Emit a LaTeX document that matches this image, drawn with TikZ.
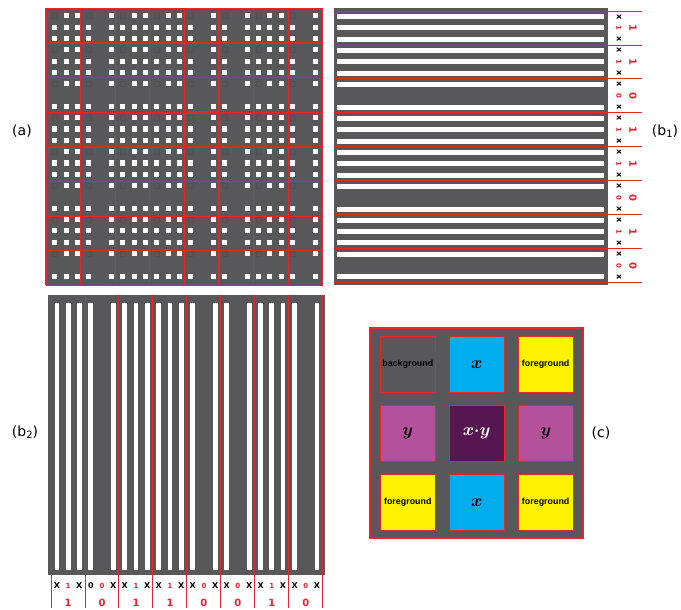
\documentclass[tikz,border=0pt]{standalone}
\usepackage{amsmath}
\usepackage{fontspec}
\setmainfont{DejaVu Sans}
\newfontfamily\lsans{Liberation Sans}
\definecolor{gr}{HTML}{58585A}
\definecolor{rd}{HTML}{E3262C}
\definecolor{cy}{HTML}{00AEEF}
\definecolor{ye}{HTML}{FFF200}
\definecolor{mg}{HTML}{B5519B}
\definecolor{dp}{HTML}{561651}
\newcommand\wsq[2]{\fill[white] ({#1*11.32+3.3},{#2*11.32+3.3}) rectangle ++(5.1,5.1);}
\tikzset{
  redl/.style={draw=rd, line width=1.2pt},
  redt/.style={draw=rd, line width=0.9pt},
  plbl/.style={font=\fontsize{14}{14}\selectfont, inner sep=0},
  b1x/.style={font=\fontsize{8}{8}\selectfont\bfseries, inner sep=0, rotate=-90},
  b1s/.style={font=\fontsize{7}{7}\selectfont\bfseries, text=rd, inner sep=0, rotate=-90},
  b1b/.style={font=\fontsize{10}{10}\selectfont\bfseries, text=rd, inner sep=0, rotate=-90},
  b2x/.style={font=\fontsize{8}{8}\selectfont\bfseries, inner sep=0},
  b2s/.style={font=\fontsize{7}{7}\selectfont\bfseries, text=rd, inner sep=0},
  b2b/.style={font=\fontsize{10}{10}\selectfont\bfseries, text=rd, inner sep=0},
  csq/.style={draw=rd, line width=0.6pt, minimum size=55.5pt, inner sep=0},
  cword/.style={font=\lsans\fontsize{8.9}{9}\selectfont\bfseries},
  cmath/.style={font=\fontsize{19}{19}\selectfont}
}
\begin{document}
\begin{tikzpicture}[x=1pt,y=-1pt]
\useasboundingbox (0,0) rectangle (681,610);
% ---------- panel (a)
\fill[gr] (46,8.5) rectangle (322.8,285.3);
\foreach \c/\X in {0/1,1/0,2/1,3/1,4/0,5/0,6/1,7/0}{
  \foreach \r/\Y in {0/1,1/1,2/0,3/1,4/1,5/0,6/1,7/0}{
    \begin{scope}[shift={(49+33.96*\c,10+33.96*\r)}]
      \draw[black!8!gr, line width=0.4pt] (3.6,3.6) rectangle ++(4.5,4.5);
      \wsq{2}{0}\wsq{0}{2}\wsq{2}{2}
      \ifnum\X=1 \wsq{1}{0}\wsq{1}{2}\fi
      \ifnum\Y=1 \wsq{0}{1}\wsq{2}{1}\fi
      \ifnum\X\Y=11 \wsq{1}{1}\fi
    \end{scope}
  }
}
\foreach \k in {0,...,8}{
  \draw[redl] (46+34.6*\k,8.5) -- (46+34.6*\k,285.3);
  \draw[redl] (46,8.5+34.6*\k) -- (322.8,8.5+34.6*\k);
}
\draw[draw=rd, line width=2.6pt] (46+34.6*4,8.5+34.6*3) rectangle ++(34.6,34.6);
\node[plbl] (la) at (22,131) {(a)};
% ---------- panel (b1)
\fill[gr] (334,8.3) rectangle (608,285);
\foreach \r/\Y in {0/1,1/1,2/0,3/1,4/1,5/0,6/1,7/0}{
  \fill[white] (337.3,11+33.96*\r+5.6-2.5) rectangle (604,11+33.96*\r+5.6+2.5);
  \fill[white] (337.3,11+33.96*\r+28.2-2.5) rectangle (604,11+33.96*\r+28.2+2.5);
  \ifnum\Y=1 \fill[white] (337.3,11+33.96*\r+16.9-2.5) rectangle (604,11+33.96*\r+16.9+2.5);\fi
  \node[b1x] (bxa\r) at (619,11+33.96*\r+5.6) {x};
  \node[b1s] (bs\r) at (619,11+33.96*\r+16.9) {\Y};
  \node[b1x] (bxb\r) at (619,11+33.96*\r+28.2) {x};
  \node[b1b] (bb\r) at (633,11+33.96*\r+16.9) {\Y};
}
\foreach \k in {0,...,8}{
  \draw[redt] (334,11+33.96*\k) -- (641.7,11+33.96*\k);
}
\node[plbl] (lb1) at (665,131) {(b{\fontsize{10}{10}\selectfont\raisebox{-2.5pt}{1}})};
% ---------- panel (b2)
\fill[gr] (48.3,295) rectangle (325,575);
\foreach \c/\X/\F in {0/1/X,1/0/0,2/1/X,3/1/X,4/0/X,5/0/X,6/1/X,7/0/X}{
  \fill[white] (51+33.96*\c+5.9-2.4,303.3) rectangle (51+33.96*\c+5.9+2.4,570);
  \fill[white] (51+33.96*\c+28.3-2.4,303.3) rectangle (51+33.96*\c+28.3+2.4,570);
  \ifnum\X=1 \fill[white] (51+33.96*\c+17.1-2.4,303.3) rectangle (51+33.96*\c+17.1+2.4,570);\fi
  \node[b2x] (cxa\c) at (51+33.96*\c+5.9,586) {\F};
  \node[b2s] (cs\c) at (51+33.96*\c+17.1,586) {\X};
  \node[b2x] (cxb\c) at (51+33.96*\c+28.3,586) {X};
  \node[b2b] (cb\c) at (51+33.96*\c+17.1,602.5) {\X};
}
\foreach \k in {0,...,8}{
  \draw[redt] (51+33.96*\k,295) -- (51+33.96*\k,608);
}
\node[plbl] (lb2) at (25,432) {(b{\fontsize{10}{10}\selectfont\raisebox{-2.5pt}{2}})};
% ---------- panel (c)
\draw[draw=rd, line width=2pt, fill=gr] (370,328.3) rectangle (582.7,538.3);
\node[csq, fill=gr] (cbg) at (407.8,364.4) {};
\node[cword] (tbg) at (cbg) {background};
\node[csq, fill=cy, cmath] (cx1) at (476.7,364.4) {$\boldsymbol{x}$};
\node[csq, fill=ye, cword] (cf1) at (545.7,364.4) {foreground};
\node[csq, fill=mg, cmath] (cy1) at (407.8,433.5) {$\boldsymbol{y}$};
\node[csq, fill=dp, cmath, text=white] (cxy) at (476.7,433.5) {$\boldsymbol{x{\cdot}y}$};
\node[csq, fill=mg, cmath] (cy2) at (545.7,433.5) {$\boldsymbol{y}$};
\node[csq, fill=ye, cword] (cf2) at (407.8,502.5) {foreground};
\node[csq, fill=cy, cmath] (cx2) at (476.7,502.5) {$\boldsymbol{x}$};
\node[csq, fill=ye, cword] (cf3) at (545.7,502.5) {foreground};
\node[plbl] (lc) at (601,433) {(c)};
\end{tikzpicture}
\end{document}
